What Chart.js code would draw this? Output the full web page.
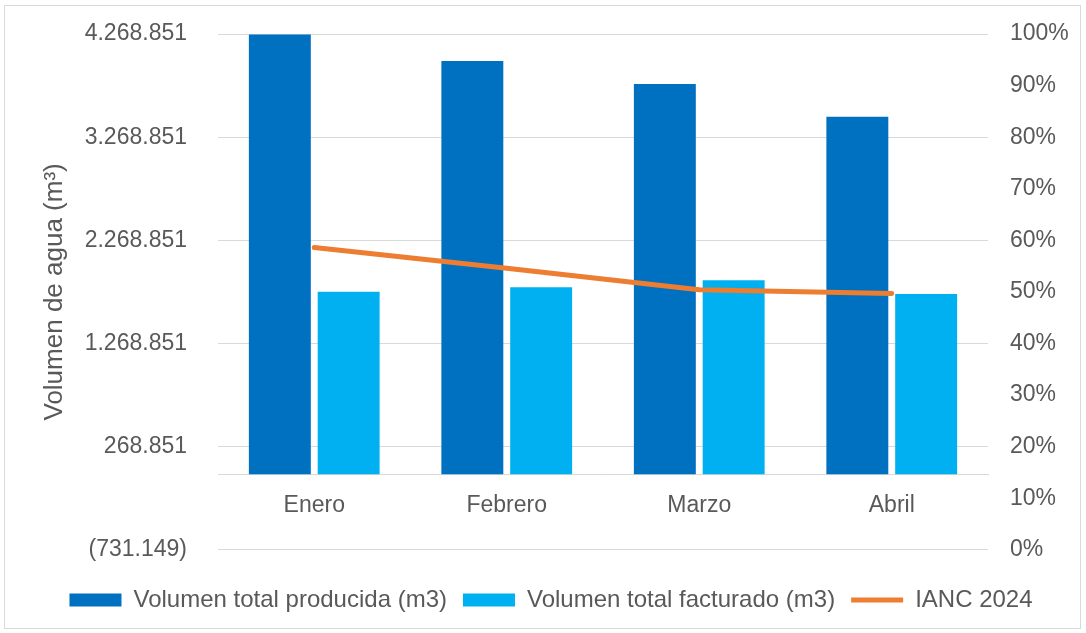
<!DOCTYPE html>
<html><head><meta charset="utf-8">
<script src="https://cdn.jsdelivr.net/npm/chart.js@4"></script>
<style>
html,body{margin:0;padding:0;background:#fff;}
#wrap{position:absolute;left:0;top:0;width:1086px;height:633px;}
#frame{position:absolute;left:4px;top:5px;width:1075px;height:622px;border:1px solid #d9d9d9;pointer-events:none;}
</style></head><body>
<div id="wrap"><canvas id="c" width="1086" height="633"></canvas></div>
<div id="frame"></div>
<script>
const categories = ['Enero', 'Febrero', 'Marzo', 'Abril'];
const volumenProducida = [4265000, 4007000, 3784000, 3466000];
const volumenFacturado = [1771000, 1813000, 1881000, 1748000];
const ianc2024 = [0.586, 0.546, 0.504, 0.497];
const leftTicks = [-731149, 268851, 1268851, 2268851, 3268851, 4268851];
const rightTicks = [0, 0.1, 0.2, 0.3, 0.4, 0.5, 0.6, 0.7, 0.8, 0.9, 1];

const TEXT = '#595959';
const GRID = '#D9D9D9';
const FAMILY = '"Liberation Sans", Arial, sans-serif';
const FONT = {family: FAMILY, size: 23};

function fmtNum(n) {
  const s = Math.abs(Math.round(n)).toString().replace(/\B(?=(\d{3})+(?!\d))/g, '.');
  return n < 0 ? '(' + s + ')' : s;
}

new Chart(document.getElementById('c'), {
  type: 'bar',
  data: {
    labels: categories,
    datasets: [
      {label: 'Volumen total producida (m3)', data: volumenProducida, backgroundColor: '#0070C0',
       yAxisID: 'y', pointStyle: 'rect', order: 1, categoryPercentage: 0.715, barPercentage: 0.9},
      {label: 'Volumen total facturado (m3)', data: volumenFacturado, backgroundColor: '#00B0F0',
       yAxisID: 'y', pointStyle: 'rect', order: 1, categoryPercentage: 0.715, barPercentage: 0.9},
      {type: 'line', label: 'IANC 2024', data: ianc2024, yAxisID: 'y1', borderColor: '#ED7D31',
       backgroundColor: '#ED7D31', borderWidth: 5, pointRadius: 0, pointHoverRadius: 0,
       borderCapStyle: 'round', borderJoinStyle: 'round', tension: 0, pointStyle: 'line', order: -1}
    ]
  },
  options: {
    responsive: false,
    animation: false,
    layout: {padding: {top: 34, bottom: 11, left: 16, right: 0}},
    plugins: {
      tooltip: {enabled: false},
      legend: {
        position: 'bottom',
        title: {display: true, text: '', font: {size: 1}, padding: {top: 21, bottom: 0}},
        labels: {
          usePointStyle: true, pointStyleWidth: 52, boxHeight: 13, padding: 16,
          color: TEXT, font: {family: FAMILY, size: 24},
          sort: (a, b) => a.datasetIndex - b.datasetIndex
        }
      }
    },
    scales: {
      x: {
        position: {y: 0},
        grid: {display: false, drawTicks: false},
        border: {display: true, color: GRID, width: 1},
        ticks: {color: TEXT, font: FONT, padding: 17}
      },
      y: {
        type: 'linear', position: 'left',
        min: leftTicks[0], max: leftTicks[leftTicks.length - 1],
        afterBuildTicks: s => { s.ticks = leftTicks.map(v => ({value: v})); },
        afterFit: s => { s.width = 202; },
        grid: {color: GRID, lineWidth: 1, drawTicks: true, tickLength: 31, tickColor: 'rgba(0,0,0,0)'},
        border: {display: false},
        ticks: {color: TEXT, font: FONT, padding: 0, callback: v => fmtNum(v)},
        title: {display: true, text: 'Volumen de agua (m³)', color: TEXT,
                font: {family: FAMILY, size: 26}, padding: {top: 23, bottom: 0}}
      },
      y1: {
        type: 'linear', position: 'right',
        min: 0, max: 1,
        afterBuildTicks: s => { s.ticks = rightTicks.map(v => ({value: v})); },
        afterFit: s => { s.width = 98; },
        grid: {display: false, drawOnChartArea: false, drawTicks: true, tickLength: 22, tickColor: 'rgba(0,0,0,0)'},
        border: {display: false},
        ticks: {color: TEXT, font: FONT, padding: 0, callback: v => Math.round(v * 100) + '%'}
      }
    }
  }
});
</script>
</body></html>
